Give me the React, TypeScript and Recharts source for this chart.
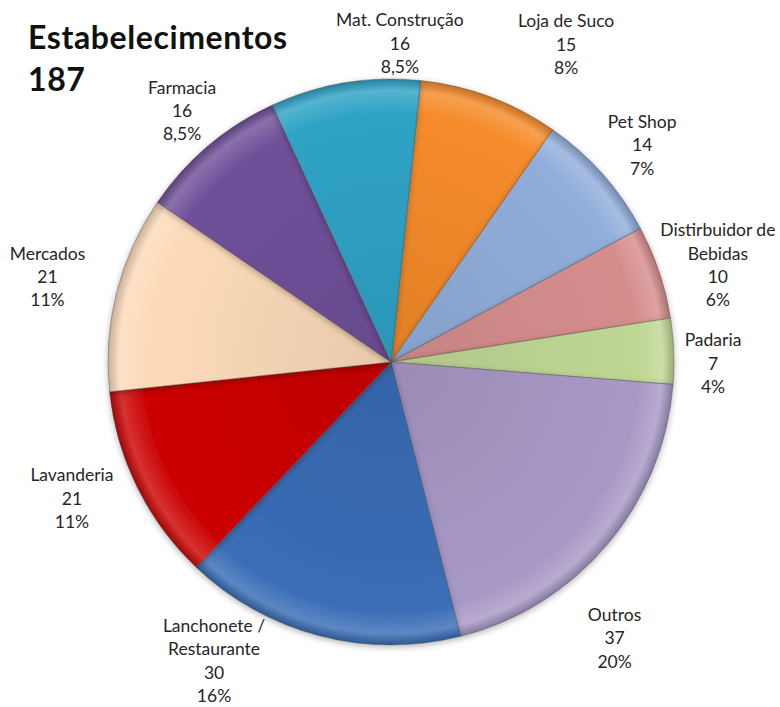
import { PieChart, Pie, Cell } from "recharts";

const categories = [
  "Loja de Suco",
  "Pet Shop",
  "Distirbuidor de\nBebidas",
  "Padaria",
  "Outros",
  "Lanchonete /\nRestaurante",
  "Lavanderia",
  "Mercados",
  "Farmacia",
  "Mat. Construção",
];
const counts = [15, 14, 10, 7, 37, 30, 21, 21, 16, 16];
const pctLabels = ["8%", "7%", "6%", "4%", "20%", "16%", "11%", "11%", "8,5%", "8,5%"];
const titleLines = ["Estabelecimentos", "187"];

const colors = [
  "#F58B2A",
  "#91AEDB",
  "#D68E8D",
  "#C0D794",
  "#A898C6",
  "#3A6DB6",
  "#CC0505",
  "#FDDBBA",
  "#70509A",
  "#2FA3C6",
];
// label placement tweaks: bearing offset (deg), radius (px)
const labelShift = [8.4, 0.8, 2, 2.4, 10.8, 16, 3.1, -0.2, 0.5, 11];
const labelRadius = [363, 332, 341, 322, 355, 347, 347, 354, 327, 319];

const data = categories.map((name, i) => ({ name, value: counts[i], pct: pctLabels[i] }));

const RADIAN = Math.PI / 180;
const LINE_H = 23.4;

function shade(hex: string, amt: number) {
  const n = parseInt(hex.slice(1), 16);
  const f = (c: number) => Math.max(0, Math.min(255, Math.round(c + amt * (amt > 0 ? 255 - c : c))));
  const r = f((n >> 16) & 255);
  const g = f((n >> 8) & 255);
  const b = f(n & 255);
  return `rgb(${r},${g},${b})`;
}

function SliceLabel(props: any) {
  const { cx, cy, midAngle, index } = props;
  const ang = (midAngle - labelShift[index]) * RADIAN;
  const r = labelRadius[index];
  const x = cx + r * Math.cos(-ang);
  const y = cy + r * Math.sin(-ang);
  const lines = [...data[index].name.split("\n"), String(data[index].value), data[index].pct];
  const top = y - ((lines.length - 1) * LINE_H) / 2;
  return (
    <g>
      {lines.map((t, k) => (
        <text
          key={k}
          x={x}
          y={top + k * LINE_H}
          textAnchor="middle"
          dominantBaseline="central"
          fontSize={17.5}
          fill="#262626"
          fontFamily="Lato, sans-serif"
        >
          {t}
        </text>
      ))}
    </g>
  );
}

export default function App() {
  return (
    <div style={{ width: 780, height: 707, background: "#fff", position: "relative" }}>
      <style>{`body{margin:0}`}</style>
      <PieChart width={780} height={707} margin={{ top: 0, right: 0, bottom: 0, left: 0 }}>
        <defs>
          <filter id="pieShadow" x="-10%" y="-10%" width="120%" height="120%">
            <feDropShadow dx="0" dy="2" stdDeviation="3" floodColor="#000" floodOpacity="0.3" />
          </filter>
          {colors.map((c, i) => (
            <radialGradient key={i} id={`g${i}`} cx="391" cy="362" r="283" gradientUnits="userSpaceOnUse">
              <stop offset="0%" stopColor={shade(c, -0.08)} />
              <stop offset="88%" stopColor={c} />
              <stop offset="96%" stopColor={shade(c, 0.18)} />
              <stop offset="100%" stopColor={shade(c, -0.2)} />
            </radialGradient>
          ))}
        </defs>
        <Pie
          data={data}
          dataKey="value"
          nameKey="name"
          cx={391}
          cy={362}
          outerRadius={283}
          startAngle={84}
          endAngle={-276}
          stroke="#4a4a4a"
          strokeWidth={0.7}
          strokeOpacity={0.6}
          label={SliceLabel}
          labelLine={false}
          isAnimationActive={false}
          style={{ filter: "url(#pieShadow)" }}
        >
          {data.map((d, i) => (
            <Cell key={d.name} fill={`url(#g${i})`} />
          ))}
        </Pie>
      </PieChart>
      <svg width={300} height={110} style={{ position: "absolute", left: 0, top: 0 }}>
        {titleLines.map((t, k) => (
          <text
            key={t}
            x={28}
            y={49 + k * 42}
            fontFamily="Lato, sans-serif"
            fontWeight={700}
            fontSize={32}
            letterSpacing={0.6}
            fill="#111"
          >
            {t}
          </text>
        ))}
      </svg>
    </div>
  );
}
